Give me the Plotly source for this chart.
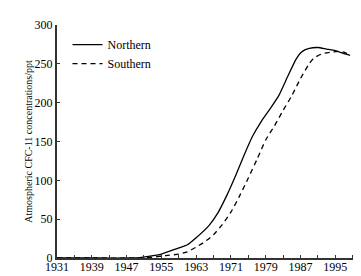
import plotly.graph_objects as go

north_years = [1931, 1940, 1948, 1950, 1952, 1955, 1958, 1961, 1963, 1966, 1968, 1970, 1972, 1974,
               1976, 1978, 1980, 1982, 1984, 1986, 1987, 1988, 1989, 1991, 1993, 1995, 1997, 1998.4]
north_vals = [0, 0, 0, 0.5, 2, 5, 11, 17, 26, 42, 58, 80, 105, 132,
              157, 176, 192, 209, 233, 256, 264, 268, 270, 271, 269, 267, 263, 261]

south_years = [1931, 1940, 1950, 1953, 1956, 1959, 1961, 1963, 1965, 1967, 1969, 1971, 1973, 1975,
               1977, 1979, 1981, 1983, 1985, 1987, 1989, 1990, 1992, 1994, 1996, 1997, 1998.4]
south_vals = [0, 0, 0, 1, 3, 5, 8, 14, 21, 30, 43, 59, 80, 103,
              127, 152, 170, 190, 209, 231, 250, 257, 263, 265, 266, 265, 261]

tick_years = list(range(1931, 2000, 4))
tick_labels = [str(y) if (y - 1931) % 8 == 0 else "" for y in tick_years]
y_ticks = [0, 50, 100, 150, 200, 250, 300]

FONT = "Liberation Serif"

fig = go.Figure()
fig.add_trace(go.Scatter(x=north_years, y=north_vals, mode="lines", name="Northern",
                         line=dict(color="black", width=1.3, shape="spline", smoothing=0.6)))
fig.add_trace(go.Scatter(x=south_years, y=south_vals, mode="lines", name="Southern",
                         line=dict(color="black", width=1.3, dash="5px,4px", shape="spline", smoothing=0.6)))

fig.update_layout(
    width=361, height=276,
    margin=dict(l=49, r=12, t=10, b=25),
    paper_bgcolor="white", plot_bgcolor="white",
    font=dict(family=FONT, size=12, color="black"),
    showlegend=True,
    legend=dict(x=0.035, y=0.978, xanchor="left", yanchor="top",
                bgcolor="rgba(0,0,0,0)", font=dict(family=FONT, size=12),
                tracegroupgap=0, itemwidth=30),
    xaxis=dict(range=[1931, 2000], tickmode="array", tickvals=tick_years, ticktext=tick_labels,
               ticks="inside", ticklen=3, tickwidth=1, tickcolor="#333",
               showline=True, linecolor="#333", linewidth=1.5, showgrid=False, zeroline=False,
               tickfont=dict(family=FONT, size=12), ticklabelstandoff=-3),
    yaxis=dict(range=[0, 300], tickmode="array", tickvals=y_ticks,
               ticks="inside", ticklen=3, tickwidth=1, tickcolor="#333",
               showline=True, linecolor="#333", linewidth=2, showgrid=False, zeroline=False,
               tickfont=dict(family=FONT, size=12),
               title=dict(text="Atmospheric CFC-11 concentrations/ppt", font=dict(family=FONT, size=10),
                          standoff=0)),
)

fig.write_html("out.html")
